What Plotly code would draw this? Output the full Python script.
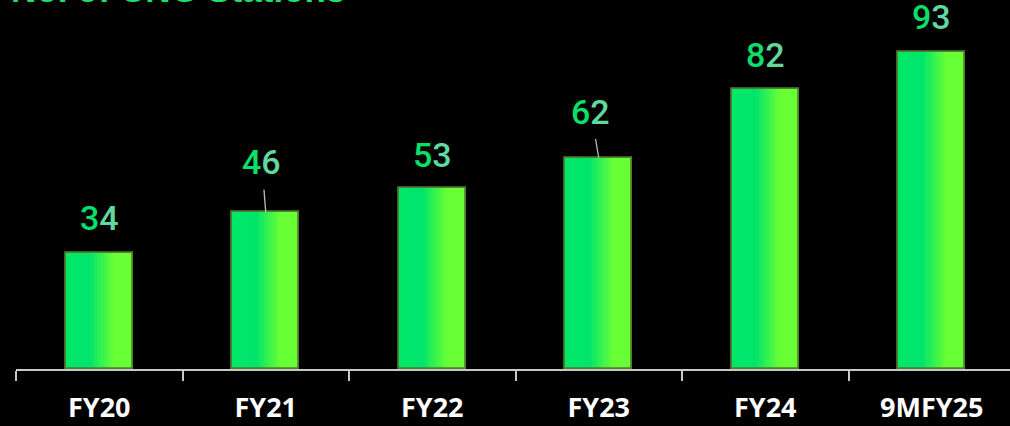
import plotly.graph_objects as go

categories = ["FY20", "FY21", "FY22", "FY23", "FY24", "9MFY25"]
values = [34, 46, 53, 62, 82, 93]
title_text = "No. of CNG Stations"

# label placement tweaks (pixel offsets) for each bar label
label_dx = [0, -4, 0, -8, 0, 0]
label_dy = [-35, -50, -33, -46, -34, -35]
leader = [False, True, False, True, False, False]

def lerp(c1, c2, t):
    return tuple(int(round(a + (b - a) * t)) for a, b in zip(c1, c2))

def grad_color(t):
    c_left = (0, 232, 106)
    c_mid = (0, 228, 108)
    c_right = (104, 255, 52)
    if t < 0.35:
        c = lerp(c_left, c_mid, t / 0.35)
    elif t < 0.72:
        c = lerp(c_mid, c_right, (t - 0.35) / 0.37)
    else:
        c = c_right
    return "rgb(%d,%d,%d)" % c

fig = go.Figure()
N = 30
bw = 0.4
for i in range(N):
    t = (i + 0.5) / N
    fig.add_trace(go.Bar(
        x=categories, y=values,
        width=bw / N + 0.002, offset=-bw / 2 + i * bw / N,
        marker=dict(color=grad_color(t), line=dict(width=0)),
        hoverinfo="skip", showlegend=False,
    ))
# outline
fig.add_trace(go.Bar(
    x=categories, y=values, width=bw, offset=-bw / 2,
    marker=dict(color="rgba(0,0,0,0)", line=dict(color="#4F7F2C", width=1.8)),
    hoverinfo="skip", showlegend=False,
))

label_font = dict(family="Roboto", size=34, color="#22DD77", weight=500)
annotations = []
for c, v, dx, dy, ld in zip(categories, values, label_dx, label_dy, leader):
    s = str(v)
    txt = "<span style='color:#08E06A'>%s</span><span style='color:#5FD99E'>%s</span>" % (s[0], s[1])
    if ld:
        annotations.append(dict(
            x=c, y=v, xref="x", yref="y", text=txt, showarrow=True,
            arrowhead=0, arrowwidth=1.3, arrowcolor="#BBBBBB",
            ax=dx, ay=dy, standoff=0, startstandoff=6,
            font=label_font,
        ))
    else:
        annotations.append(dict(
            x=c, y=v, xref="x", yref="y", text=txt, showarrow=False,
            xshift=dx, yshift=-dy, yanchor="middle",
            font=label_font,
        ))

annotations.append(dict(
    x=0, xshift=-7, y=1, yshift=-11, xref="paper", yref="paper",
    text="<b>" + title_text + "</b>",
    showarrow=False, xanchor="left", yanchor="bottom",
    font=dict(family="Liberation Sans, Arial", size=35, color="#1EE06A"),
))

fig.update_layout(
    width=1010, height=426,
    margin=dict(l=16, r=0, t=0, b=57),
    paper_bgcolor="black", plot_bgcolor="black",
    barmode="overlay", bargap=0,
    annotations=annotations,
    xaxis=dict(
        type="category", range=[-0.5, 5.47], tickson="boundaries",
        ticks="outside", ticklen=10, tickcolor="#C8C8C8", tickwidth=1.5,
        showline=True, linecolor="#C8C8C8", linewidth=2,
        showgrid=False, zeroline=False,
        tickfont=dict(family="Open Sans", size=27, color="white", weight="bold"),
        ticklabelstandoff=14,
    ),
    yaxis=dict(range=[0, 369 / 3.41], visible=False, showgrid=False, zeroline=False),
)

fig.write_html("out.html")
